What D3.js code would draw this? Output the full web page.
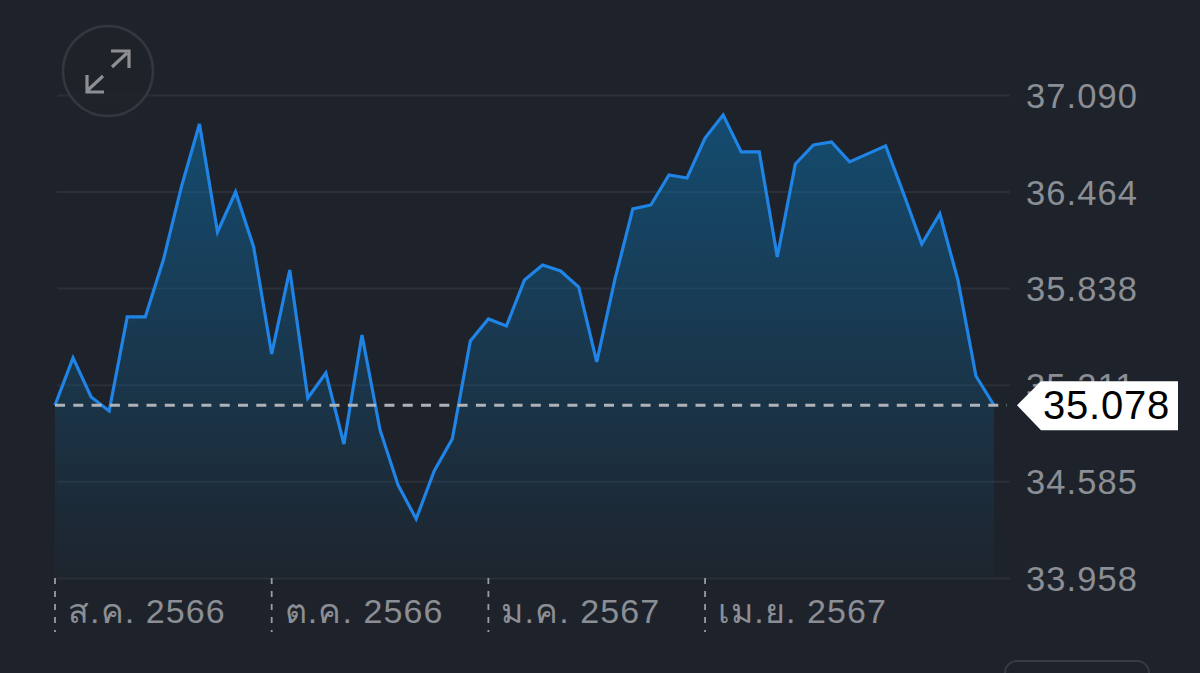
<!DOCTYPE html>
<html>
<head>
<meta charset="utf-8">
<script src="https://d3js.org/d3.v7.min.js"></script>
<style>
  html, body { margin: 0; padding: 0; background: #1e232b; overflow: hidden; }
  text { font-family: "Liberation Sans", "Noto Sans", sans-serif; }
</style>
</head>
<body>
<div id="chart"></div>
<script>
const w = 1200;
const h = 673;
const bgColor = "#1e232b";
const gridColor = "#2a2f38";
const lineColor = "#1f84e6";
const labelColor = "#8b8e94";

// one point per week
const prices = [
  35.078, 35.385, 35.132, 35.041, 35.651, 35.651, 36.020, 36.494, 36.902, 36.202,
  36.461, 36.105, 35.411, 35.955, 35.125, 35.287, 34.827, 35.534, 34.918, 34.561,
  34.341, 34.652, 34.859, 35.495, 35.638, 35.592, 35.891, 35.988, 35.949, 35.845,
  35.359, 35.891, 36.351, 36.377, 36.571, 36.552, 36.811, 36.961, 36.721, 36.721,
  36.040, 36.643, 36.766, 36.785, 36.656, 36.708, 36.760, 36.448, 36.124, 36.319,
  35.891, 35.268, 35.078
];
const yTicks = [37.090, 36.464, 35.838, 35.211, 34.585, 33.958];
const monthIndex = [0, 12, 24, 36];
const monthLabels = ["ส.ค. 2566", "ต.ค. 2566", "ม.ค. 2567", "เม.ย. 2567"];
const lastPrice = 35.078;

const svg = d3.select("#chart").append("svg")
    .attr("width", w)
    .attr("height", h)
    .style("display", "block");

const x = d3.scaleLinear().domain([0, prices.length - 1]).range([55, 994]);
const y = d3.scaleLinear().domain([33.958, 37.090]).range([578, 95]);

const defs = svg.append("defs");
const grad = defs.append("linearGradient")
    .attr("id", "fade")
    .attr("x1", 0).attr("y1", 0).attr("x2", 0).attr("y2", 1);
grad.append("stop").attr("offset", "0%").attr("stop-color", "#0a74b4").attr("stop-opacity", 0.5);
grad.append("stop").attr("offset", "100%").attr("stop-color", "#0a74b4").attr("stop-opacity", 0.02);

// grid lines + right hand labels
const yAxis = svg.append("g")
    .attr("transform", "translate(1010,0)")
    .call(d3.axisLeft(y).tickValues(yTicks).tickSize(953).tickFormat(""));
yAxis.select(".domain").remove();
yAxis.selectAll("line").attr("stroke", gridColor).attr("stroke-width", 2);

svg.append("g").selectAll("text")
    .data(yTicks)
    .join("text")
    .attr("x", 1026)
    .attr("y", d => y(d) + 13)
    .attr("font-size", 34.5)
    .attr("letter-spacing", 1.1)
    .attr("fill", labelColor)
    .text(d => d.toFixed(3));

// area and line
const area = d3.area()
    .x((d, i) => x(i))
    .y0(y(33.958))
    .y1(d => y(d));
const line = d3.line()
    .x((d, i) => x(i))
    .y(d => y(d));

svg.append("path")
    .datum(prices)
    .attr("d", area)
    .attr("fill", "url(#fade)");
svg.append("path")
    .datum(prices)
    .attr("d", line)
    .attr("fill", "none")
    .attr("stroke", lineColor)
    .attr("stroke-width", 3.2)
    .attr("stroke-linejoin", "miter");

// month ticks
const months = svg.append("g").selectAll("g")
    .data(monthIndex)
    .join("g")
    .attr("transform", d => "translate(" + x(d) + ",0)");
months.append("line")
    .attr("y1", 578)
    .attr("y2", 632)
    .attr("stroke", "#9a9da3")
    .attr("stroke-width", 1.8)
    .attr("stroke-dasharray", "6 7");
months.append("text")
    .attr("x", 13)
    .attr("y", 623)
    .attr("font-size", 34)
    .attr("letter-spacing", 1.1)
    .attr("fill", labelColor)
    .text((d, i) => monthLabels[i]);

// last price marker
const lastY = y(lastPrice);
svg.append("line")
    .attr("x1", 55)
    .attr("x2", 1007)
    .attr("y1", lastY)
    .attr("y2", lastY)
    .attr("stroke", "#aeb3b9")
    .attr("stroke-width", 3)
    .attr("stroke-dasharray", "10 8.3");
svg.append("path")
    .attr("d", d3.line()([[1017, lastY], [1041, lastY - 24], [1178, lastY - 24], [1178, lastY + 25], [1041, lastY + 25]]) + "Z")
    .attr("fill", "#fff");
svg.append("text")
    .attr("x", 1043)
    .attr("y", lastY + 14)
    .attr("font-size", 40)
    .attr("letter-spacing", 0.8)
    .attr("fill", "#000")
    .text(lastPrice.toFixed(3));

// expand button
const btn = svg.append("g").attr("transform", "translate(108,71)");
btn.append("circle")
    .attr("r", 45)
    .attr("fill", bgColor)
    .attr("fill-opacity", 0.8)
    .attr("stroke", "#33373f")
    .attr("stroke-width", 2.5);
btn.append("path")
    .attr("d", "M4,-4 L19,-18 M3,-20 H21 V-3 M-5,5 L-20,19 M-21,4 V21 H-4")
    .attr("fill", "none")
    .attr("stroke", "#8f8f91")
    .attr("stroke-width", 3.2);

// tab at the bottom edge
svg.append("rect")
    .attr("x", 1005)
    .attr("y", 661)
    .attr("width", 144)
    .attr("height", 40)
    .attr("rx", 12)
    .attr("fill", "none")
    .attr("stroke", "#363a42")
    .attr("stroke-width", 2);
</script>
</body>
</html>
